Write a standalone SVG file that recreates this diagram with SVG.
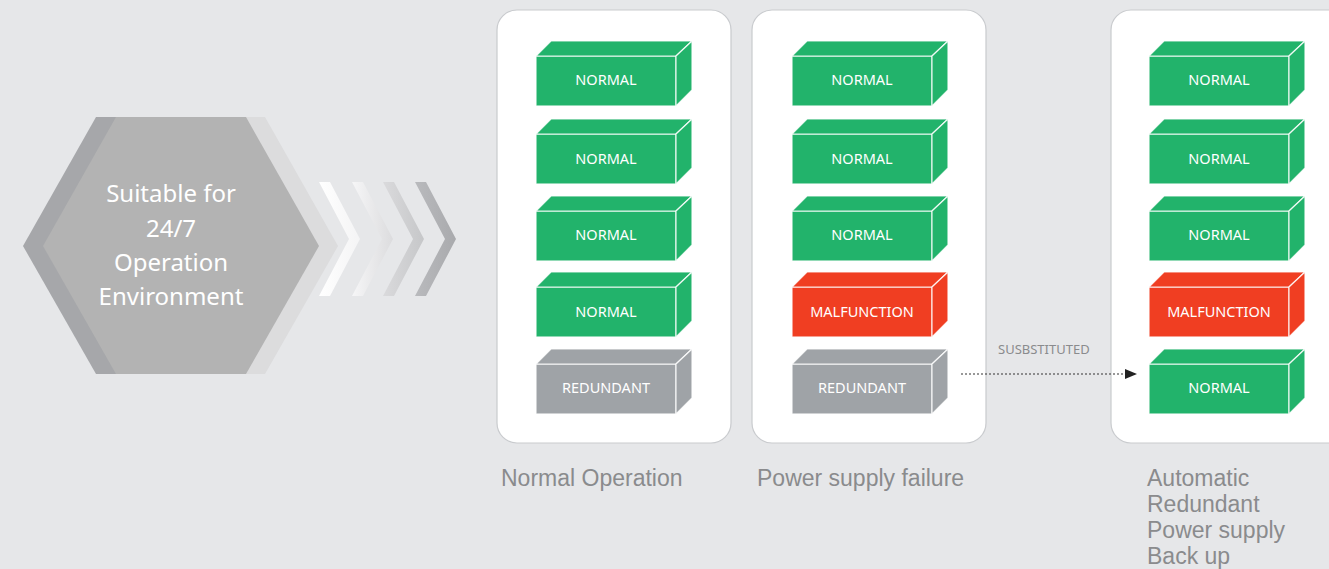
<svg xmlns="http://www.w3.org/2000/svg" width="1329" height="569" viewBox="0 0 1329 569">
<defs>
<style>
.panel{fill:#ffffff;stroke:#c9cbce;stroke-width:1.2}
.face{stroke:#ffffff;stroke-width:1.2;stroke-opacity:0.85}
.g{fill:#22b36b}
.r{fill:#f03e22}
.y{fill:#9fa3a7}
.lbl{font-family:"Noto Sans",sans-serif;font-size:14.5px;fill:#ffffff;text-anchor:middle}
.cap{font-family:"Liberation Sans",Arial,sans-serif;font-size:23px;fill:#8a8b8d}
.hex{font-family:"Noto Sans",sans-serif;font-size:24px;fill:#ffffff;text-anchor:middle}
</style>
<linearGradient id="c1" x1="0" y1="0" x2="1" y2="0"><stop offset="0" stop-color="#ffffff"/><stop offset="1" stop-color="#f4f4f5"/></linearGradient>
<linearGradient id="c2" x1="0" y1="0" x2="1" y2="0"><stop offset="0" stop-color="#f6f6f7"/><stop offset="1" stop-color="#dcdcde"/></linearGradient>
<linearGradient id="c3" x1="0" y1="0" x2="1" y2="0"><stop offset="0" stop-color="#dadadc"/><stop offset="1" stop-color="#c6c7c9"/></linearGradient>
<linearGradient id="c4" x1="0" y1="0" x2="1" y2="0"><stop offset="0" stop-color="#b9babd"/><stop offset="1" stop-color="#a9aaad"/></linearGradient>
<marker id="ah" viewBox="0 0 12 10" refX="12" refY="5" markerWidth="12" markerHeight="10" markerUnits="userSpaceOnUse" orient="auto"><path d="M0,0 L12,5 L0,10 Z" fill="#222222"/></marker>
<g id="box">
<rect class="face" x="0" y="0" width="140" height="50"/>
<polygon class="face" points="0,0 15,-15 156,-15 140,0"/>
<polygon class="face" points="140,0 156,-15 156,34 140,50"/>
</g>
</defs>
<rect x="0" y="0" width="1329" height="569" fill="#e6e7e9"/>

<g id="hexagon">
<polygon points="96,117 246,117 319,246 246,374 96,374 23,246" fill="#a6a7aa"/>
<polygon points="135,117 265,117 338,246 265,374 135,374 62,246" fill="#dcdcdd"/>
<polygon points="116,117 246,117 319,246 246,374 116,374 43,246" fill="#b3b3b3"/>
<text class="hex" x="171" y="202">Suitable for</text>
<text class="hex" x="171" y="237">24/7</text>
<text class="hex" x="171" y="271">Operation</text>
<text class="hex" x="171" y="305">Environment</text>
</g>

<g id="chevrons">
<polygon points="319,182 330,182 360,239 330,296 319,296 349,239" fill="url(#c1)"/>
<polygon points="352,182 363,182 393,239 363,296 352,296 382,239" fill="url(#c2)"/>
<polygon points="383,182 394,182 424,239 394,296 383,296 413,239" fill="url(#c3)"/>
<polygon points="415,182 426,182 456,239 426,296 415,296 445,239" fill="url(#c4)"/>
</g>

<g id="panel-normal">
<rect class="panel" x="497" y="10" width="234" height="433" rx="20"/>
<g class="g" transform="translate(536,56)"><use href="#box"/><text class="lbl" x="70" y="29">NORMAL</text></g>
<g class="g" transform="translate(536,134)"><use href="#box"/><text class="lbl" x="70" y="30">NORMAL</text></g>
<g class="g" transform="translate(536,211)"><use href="#box"/><text class="lbl" x="70" y="29">NORMAL</text></g>
<g class="g" transform="translate(536,287)"><use href="#box"/><text class="lbl" x="70" y="30">NORMAL</text></g>
<g class="y" transform="translate(536,364)"><use href="#box"/><text class="lbl" x="70" y="29">REDUNDANT</text></g>
<text class="cap" x="501" y="486">Normal Operation</text>
</g>

<g id="panel-failure">
<rect class="panel" x="752" y="10" width="234" height="433" rx="20"/>
<g class="g" transform="translate(792,56)"><use href="#box"/><text class="lbl" x="70" y="29">NORMAL</text></g>
<g class="g" transform="translate(792,134)"><use href="#box"/><text class="lbl" x="70" y="30">NORMAL</text></g>
<g class="g" transform="translate(792,211)"><use href="#box"/><text class="lbl" x="70" y="29">NORMAL</text></g>
<g class="r" transform="translate(792,287)"><use href="#box"/><text class="lbl" x="70" y="30">MALFUNCTION</text></g>
<g class="y" transform="translate(792,364)"><use href="#box"/><text class="lbl" x="70" y="29">REDUNDANT</text></g>
<text class="cap" x="757" y="486">Power supply failure</text>
</g>

<g id="panel-backup">
<rect class="panel" x="1111" y="10" width="240" height="433" rx="20"/>
<g class="g" transform="translate(1149,56)"><use href="#box"/><text class="lbl" x="70" y="29">NORMAL</text></g>
<g class="g" transform="translate(1149,134)"><use href="#box"/><text class="lbl" x="70" y="30">NORMAL</text></g>
<g class="g" transform="translate(1149,211)"><use href="#box"/><text class="lbl" x="70" y="29">NORMAL</text></g>
<g class="r" transform="translate(1149,287)"><use href="#box"/><text class="lbl" x="70" y="30">MALFUNCTION</text></g>
<g class="g" transform="translate(1149,364)"><use href="#box"/><text class="lbl" x="70" y="29">NORMAL</text></g>
<text class="cap" x="1147" y="486">Automatic</text>
<text class="cap" x="1147" y="512">Redundant</text>
<text class="cap" x="1147" y="538">Power supply</text>
<text class="cap" x="1147" y="564">Back up</text>
</g>

<g id="connectors">
<line x1="961" y1="374" x2="1137" y2="374" stroke="#333333" stroke-width="1.2" stroke-dasharray="2 2" marker-end="url(#ah)"/>
<text x="998" y="354" font-family="Noto Sans, sans-serif" font-size="13" fill="#8a8b8d">SUSBSTITUTED</text>
</g>
</svg>
